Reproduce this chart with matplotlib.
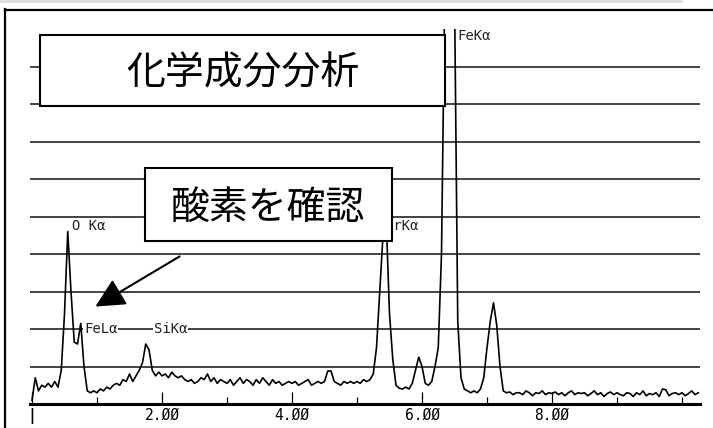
import numpy as np
import matplotlib
matplotlib.use("Agg")
import matplotlib.pyplot as plt
from matplotlib.patches import Rectangle
from matplotlib.lines import Line2D

# EDX spectrum, counts (1 unit = 1 gridline), 0.05 keV per channel
kev_step = 0.05
counts = [
    0.1, 0.7, 0.35, 0.5, 0.45, 0.55, 0.45, 0.6, 0.45, 0.9,
    2.4, 4.6, 3.0, 1.65, 1.6, 2.15, 1.0, 0.35, 0.3, 0.35,
    0.3, 0.4, 0.35, 0.45, 0.4, 0.5, 0.55, 0.5, 0.65, 0.6,
    0.8, 0.6, 0.75, 0.9, 1.1, 1.6, 1.45, 0.9, 0.75, 0.85,
    0.75, 0.8, 0.7, 0.85, 0.75, 0.7, 0.75, 0.65, 0.6, 0.65,
    0.55, 0.6, 0.7, 0.65, 0.8, 0.6, 0.7, 0.55, 0.65, 0.6,
    0.55, 0.65, 0.5, 0.6, 0.7, 0.55, 0.65, 0.6, 0.5, 0.65,
    0.55, 0.7, 0.6, 0.5, 0.65, 0.55, 0.6, 0.5, 0.55, 0.6,
    0.55, 0.6, 0.5, 0.55, 0.6, 0.65, 0.5, 0.55, 0.6, 0.55,
    0.6, 0.88, 0.88, 0.6, 0.55, 0.5, 0.6, 0.55, 0.6, 0.55,
    0.6, 0.55, 0.65, 0.6, 0.65, 0.8, 1.5, 3.0, 4.5, 4.9,
    2.4, 1.2, 0.5, 0.42, 0.4, 0.45, 0.4, 0.55, 0.9, 1.25,
    1.0, 0.55, 0.5, 0.6, 1.0, 1.5, 4.0, 11.0, 12.0, 12.0,
    11.0, 2.2, 0.7, 0.4, 0.35, 0.3, 0.35, 0.3, 0.4, 0.7,
    1.5, 2.2, 2.7, 2.1, 1.0, 0.35, 0.3, 0.32, 0.25, 0.3,
    0.3, 0.25, 0.35, 0.3, 0.22, 0.3, 0.28, 0.35, 0.25, 0.3,
    0.28, 0.32, 0.25, 0.3, 0.22, 0.3, 0.35, 0.25, 0.3, 0.28,
    0.3, 0.22, 0.28, 0.35, 0.25, 0.3, 0.2, 0.28, 0.32, 0.25,
    0.3, 0.25, 0.22, 0.3, 0.28, 0.2, 0.3, 0.25, 0.35, 0.22,
    0.28, 0.25, 0.3, 0.2, 0.4, 0.38, 0.22, 0.28, 0.3, 0.25,
    0.3, 0.22, 0.28, 0.35, 0.25, 0.3,
]

tick_pos = [0, 1, 2, 3, 4, 5, 6, 7, 8, 9, 10]
tick_labels = ["|", "", "2.ØØ", "", "4.ØØ", "", "6.ØØ", "", "8.ØØ", "", ""]

# peak labels: (text, keV, counts)
peak_labels = [
    ("O Kα", 0.62, 4.75),
    ("FeLα", 0.8, 2.0),
    ("SiKα", 1.87, 2.0),
    ("CrKα", 5.43, 4.75),
    ("FeKα", 6.55, 9.8),
]

title_text = "化学成分分析"
note_text = "酸素を確認"

W, H = 713, 428
plt.rcParams["font.family"] = ["Noto Sans CJK JP", "DejaVu Sans"]

fig = plt.figure(figsize=(W / 100, H / 100), dpi=100)


def fp(x, y):
    # image pixel -> figure fraction
    return x / W, 1 - y / H


ax = fig.add_axes([30 / W, (H - 404) / H, 670 / W, 375 / H])
energy = np.arange(len(counts)) * kev_step
ax.plot(energy, counts, color="black", lw=1.2, zorder=3)
ax.set_xlim(-2 / 65, 668 / 65)
ax.set_ylim(0, 10)

ax.set_yticks(range(1, 10))
ax.yaxis.grid(True, color="#111111", lw=1.1)
ax.tick_params(axis="y", length=0, labelleft=False)
ax.set_xticks(tick_pos)
ax.set_xticklabels(tick_labels, family="DejaVu Sans Mono", fontsize=10.5)
ax.tick_params(axis="x", direction="in", width=0.9, pad=3)
for t, lab in zip(ax.xaxis.get_major_ticks(), tick_labels):
    t.tick1line.set_markersize(9 if lab else 5)
ax.get_xticklabels()[0].set_fontweight("bold")
for s in ["top", "left", "right"]:
    ax.spines[s].set_visible(False)
ax.spines["bottom"].set_linewidth(2.2)

for txt, xk, yc in peak_labels:
    ax.text(xk, yc, txt, family="DejaVu Sans Mono", fontsize=10, va="center",
            ha="left", color="#222222", zorder=4,
            bbox=dict(facecolor="white", edgecolor="none", pad=0.5))

# scan frame
fig.add_artist(Rectangle(fp(0, 3), 683 / W, 3 / H, transform=fig.transFigure,
                         facecolor="#dddddd", edgecolor="none"))
fig.add_artist(Line2D([4.5 / W, 4.5 / W], [0, 1 - 9 / H], color="black", lw=1.6,
                      transform=fig.transFigure))
fig.add_artist(Line2D([4.5 / W, 1], [1 - 9.5 / H, 1 - 9.5 / H], color="black",
                      lw=1.6, transform=fig.transFigure))

# callout boxes
for (x0, y0, x1, y1), txt in [((40, 35, 445, 106), title_text),
                              ((145, 168, 392, 241), note_text)]:
    fig.add_artist(Rectangle(fp(x0, y1), (x1 - x0) / W, (y1 - y0) / H,
                             transform=fig.transFigure, facecolor="white",
                             edgecolor="black", lw=1.5, zorder=10))
    cx, cy = fp((x0 + x1) / 2, (y0 + y1) / 2 + 3)
    fig.text(cx, cy, txt, fontsize=28, ha="center", va="center", zorder=11)

ax.annotate("", xy=fp(93, 308), xytext=fp(182, 255), xycoords="figure fraction",
            textcoords="figure fraction",
            arrowprops=dict(arrowstyle="-|>,head_length=0.9,head_width=0.45",
                            mutation_scale=20, color="black", lw=1.5),
            zorder=12)

fig.savefig("out.png", dpi=100, facecolor="white")
